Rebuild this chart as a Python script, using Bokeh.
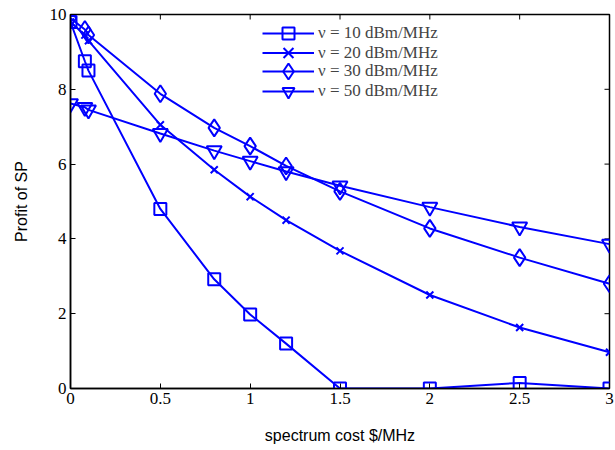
import math
from bokeh.plotting import figure
from bokeh.models import FixedTicker, Legend, LegendItem, Range1d
from bokeh.embed import file_html
from bokeh.resources import INLINE

cost = [0, 0.08, 0.1, 0.5, 0.8, 1.0, 1.2, 1.5, 2.0, 2.5, 3.0]
p10 = [9.8, 8.75, 8.5, 4.8, 2.92, 1.98, 1.2, 0.0, 0.0, 0.15, 0.0]
p20 = [9.8, 9.45, 9.3, 7.05, 5.85, 5.13, 4.5, 3.68, 2.5, 1.63, 0.97]
p30 = [9.9, 9.6, 9.45, 7.88, 6.97, 6.48, 5.95, 5.27, 4.28, 3.5, 2.8]
p50 = [7.62, 7.52, 7.45, 6.82, 6.36, 6.08, 5.8, 5.42, 4.85, 4.32, 3.86]
labels = ["ν = 10 dBm/MHz", "ν = 20 dBm/MHz", "ν = 30 dBm/MHz", "ν = 50 dBm/MHz"]
xticks = [0, 0.5, 1, 1.5, 2, 2.5, 3]
yticks = [0, 2, 4, 6, 8, 10]
XMAX, YMAX = 3, 10

BLUE = "#0000ff"
p = figure(width=615, height=450, output_backend="svg", toolbar_location=None,
           x_range=Range1d(0, XMAX), y_range=Range1d(0, YMAX),
           min_border_left=70, min_border_right=6, min_border_top=14, min_border_bottom=62)
p.xgrid.visible = False
p.ygrid.visible = False
p.outline_line_color = "black"
p.outline_line_width = 1.5

# inward ticks on the top and right edges of the frame (outer halves are clipped)
p.scatter(xticks, [YMAX] * len(xticks), marker="dash", size=10, angle=math.pi / 2,
          line_color="black", line_width=1)
p.scatter([XMAX] * len(yticks), yticks, marker="dash", size=10,
          line_color="black", line_width=1)

series = [(p10, "square", 12), (p20, "x", 10), (p30, "diamond", 17), (p50, "inverted_triangle", 15)]
items = []
for (vals, mk, sz), lab in zip(series, labels):
    r1 = p.line(cost, vals, line_color=BLUE, line_width=2)
    r2 = p.scatter(cost, vals, marker=mk, size=sz, line_color=BLUE, fill_color=None, line_width=2)
    items.append(LegendItem(label=lab, renderers=[r1, r2]))

for ax in (p.xaxis[0], p.yaxis[0]):
    ax.axis_line_width = 1.5
    ax.major_tick_in = 5
    ax.major_tick_out = 0
    ax.minor_tick_line_color = None
    ax.major_label_text_font = "Liberation Serif"
    ax.major_label_text_font_size = "17px"
    ax.major_label_text_color = "black"
    ax.axis_label_text_font = "Liberation Sans"
    ax.axis_label_text_font_size = "16px"
    ax.axis_label_text_font_style = "normal"
    ax.axis_label_text_color = "black"

p.xaxis[0].ticker = FixedTicker(ticks=xticks)
p.yaxis[0].ticker = FixedTicker(ticks=yticks)
p.xaxis[0].axis_label = "spectrum cost $/MHz"
p.yaxis[0].axis_label = "Profit of SP"
p.xaxis[0].major_label_standoff = 4
p.yaxis[0].major_label_standoff = 4
p.xaxis[0].axis_label_standoff = 20
p.yaxis[0].axis_label_standoff = 17

# one legend per row so that the legend markers can be large with tight rows
row_specs = [(340, 30), (318, 35), (297, 40), (282, 30)]   # (bottom offset, glyph height)
for it, (yb, gh) in zip(items, row_specs):
    lg = Legend(items=[it], location=(192, yb), glyph_width=52, glyph_height=gh,
                label_height=19, spacing=0, padding=0, margin=0,
                label_text_font="Liberation Serif", label_text_font_size="17px",
                label_standoff=4, border_line_color=None, background_fill_alpha=0)
    p.add_layout(lg, "center")

open("out.html", "w").write(file_html(p, INLINE))
